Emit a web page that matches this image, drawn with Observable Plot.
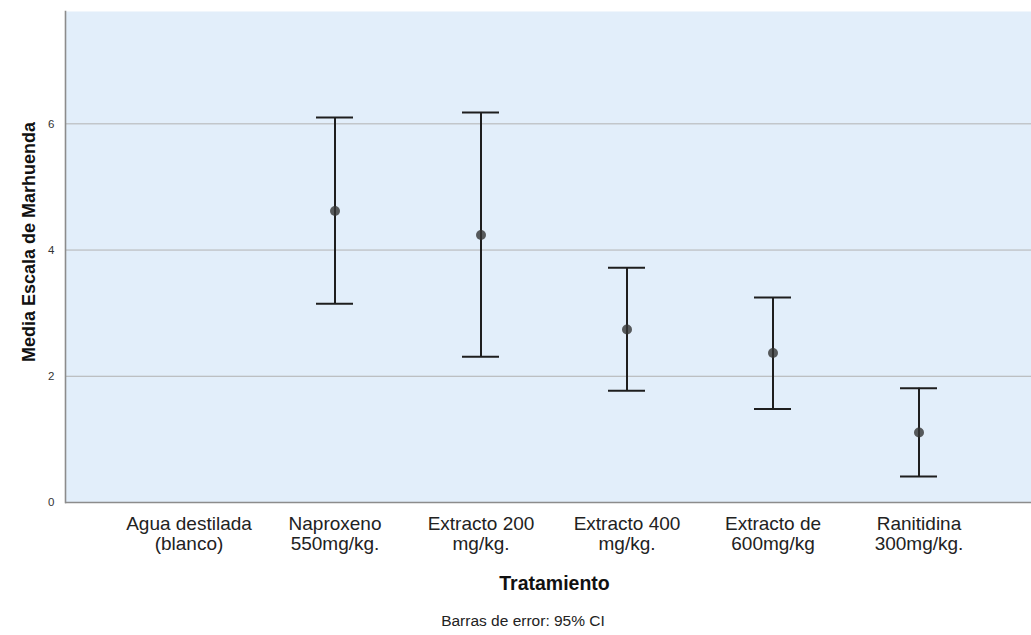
<!DOCTYPE html>
<html>
<head>
<meta charset="utf-8">
<script src="https://cdn.jsdelivr.net/npm/d3@7"></script>
<script src="https://cdn.jsdelivr.net/npm/@observablehq/plot@0.6"></script>
<style>
  body { margin: 0; background: #fff; font-family: "Liberation Sans", Arial, sans-serif; }
  #caption { width: 1046px; text-align: center; font-size: 15.5px; color: #222; line-height: 18px; padding-top: 9px; }
</style>
</head>
<body>
<div id="chart"></div>
<div id="caption">Barras de error: 95% CI</div>
<script>
const categories = [
  "Agua destilada\n(blanco)",
  "Naproxeno\n550mg/kg.",
  "Extracto 200\nmg/kg.",
  "Extracto 400\nmg/kg.",
  "Extracto de\n600mg/kg",
  "Ranitidina\n300mg/kg."
];
const means = [null, 4.62, 4.24, 2.74, 2.37, 1.11];
const lower = [null, 3.15, 2.31, 1.77, 1.48, 0.41];
const upper = [null, 6.10, 6.18, 3.72, 3.25, 1.81];
const yTicks = [0, 2, 4, 6];
const yLabel = "Media Escala de Marhuenda";
const xLabel = "Tratamiento";

const rows = categories
  .map((c, i) => ({cat: c, mean: means[i], lo: lower[i], hi: upper[i]}))
  .filter(d => d.mean != null);

const barColor = "#1e1e1e";

const chart = Plot.plot({
  width: 1031,
  height: 603,
  marginTop: 11,
  marginLeft: 65,
  marginRight: 0,
  marginBottom: 101,
  style: {fontFamily: "'Liberation Sans', Arial, sans-serif", background: "#fff", overflow: "visible"},
  x: {type: "band", domain: categories, paddingInner: 0.748, paddingOuter: 0.668, align: 0.528},
  y: {domain: [0, 7.78]},
  marks: [
    Plot.frame({fill: "#e2eefa", stroke: null}),
    Plot.gridY(yTicks.filter(t => t > 0), {stroke: "#b2b2b2", strokeOpacity: 1, strokeWidth: 1}),
    Plot.ruleY([0], {stroke: "#8c8c8c", strokeWidth: 1.6}),
    Plot.frame({anchor: "left", stroke: "#8c8c8c", strokeWidth: 1.6}),
    Plot.ruleX(rows, {x: "cat", y1: "lo", y2: "hi", stroke: barColor, strokeWidth: 2}),
    Plot.tickY(rows, {x: "cat", y: "lo", stroke: barColor, strokeWidth: 2}),
    Plot.tickY(rows, {x: "cat", y: "hi", stroke: barColor, strokeWidth: 2}),
    Plot.dot(rows, {x: "cat", y: "mean", r: 5, fill: "#333", fillOpacity: 0.8, stroke: null}),
    Plot.axisY(yTicks, {tickSize: 0, tickPadding: 11, fontSize: 11.5, color: "#333", label: null, tickFormat: d3.format("d")}),
    Plot.axisX({tickSize: 0, tickPadding: 13, fontSize: 19, lineHeight: 1.05, color: "#222", label: null}),
    Plot.text([yLabel], {frameAnchor: "left", textAnchor: "middle", rotate: -90, dx: -36, dy: -15, fontSize: 18, fontWeight: "bold", fill: "#111", lineAnchor: "middle"}),
    Plot.text([xLabel], {frameAnchor: "bottom", textAnchor: "middle", dx: 6, dy: 81, fontSize: 19.5, fontWeight: "bold", fill: "#111", lineAnchor: "middle"})
  ]
});
document.getElementById("chart").append(chart);
</script>
</body>
</html>
